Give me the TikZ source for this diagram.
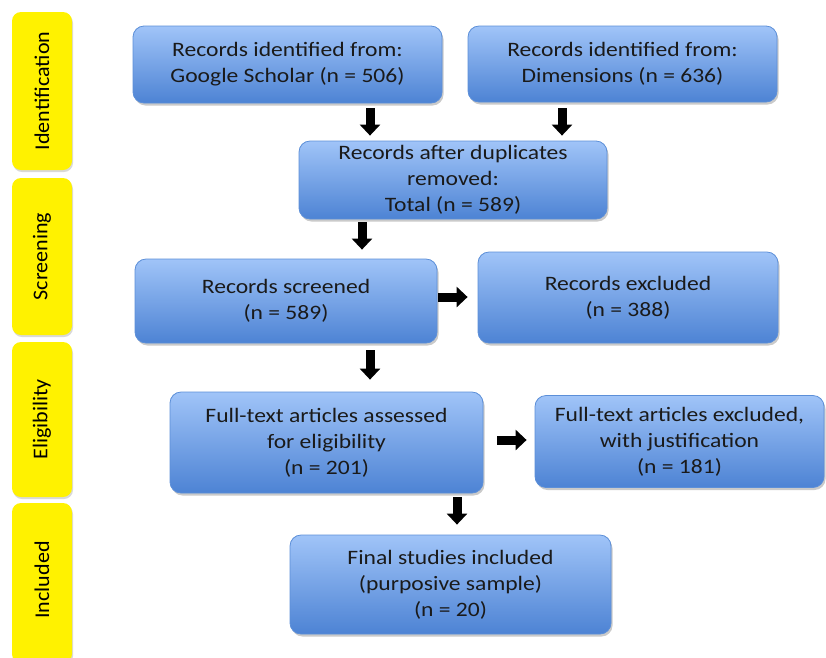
\documentclass[tikz,border=0pt]{standalone}
\usepackage{fontspec}
\setmainfont{Carlito}
\newfontfamily\boxfont{Carlito}[FakeStretch=1.15]
\newfontfamily\phasefont{Carlito}[FakeStretch=1.05]
\usetikzlibrary{shadows,arrows.meta,calc}
\definecolor{boxtop}{HTML}{A0C4F8}
\definecolor{boxbot}{HTML}{4D83D4}
\definecolor{boxedge}{HTML}{5C8FD8}
\definecolor{txt}{HTML}{1A1A1A}
\tikzset{
  box/.style={rectangle, rounded corners=11pt, draw=boxedge, line width=0.8pt,
    top color=boxtop, bottom color=boxbot, align=center, text=txt,
    font=\boxfont\fontsize{20.5}{26}\selectfont, inner sep=2pt,
    drop shadow={shadow xshift=1.5pt, shadow yshift=-2.5pt, opacity=0.35, fill=black!60}},
  phase/.style={rectangle, rounded corners=9pt, fill=yellow, minimum width=60pt,
    drop shadow={shadow xshift=1pt, shadow yshift=-2pt, opacity=0.3, fill=black!50}},
  phasetext/.style={rotate=90, font=\phasefont\fontsize{21}{24}\selectfont, text=black},
  blk/.style={line width=9pt, -{Triangle[width=20pt,length=11pt]}, black}
}
\begin{document}
\begin{tikzpicture}[x=1pt,y=-1pt]
\useasboundingbox (0,0) rectangle (826,657);
% phase bars
\node[phase, minimum height=158pt] (p1) at (42,91) {};
\node[phasetext] (t1) at (p1.center) {Identification};
\node[phase, minimum height=157pt] (p2) at (42,256.5) {};
\node[phasetext] (t2) at (p2.center) {Screening};
\node[phase, minimum height=155pt] (p3) at (42,419.5) {};
\node[phasetext] (t3) at (p3.center) {Eligibility};
\node[phase, minimum height=160pt] (p4) at (42,583) {};
\node[phasetext] (t4) at (42,580) {Included};
% boxes
\node[box, minimum width=309pt, minimum height=77pt] (gs) at (287.5,64.5) {Records identified from:\\Google Scholar (n = 506)};
\node[box, minimum width=309pt, minimum height=76pt] (dim) at (622.5,64) {Records identified from:\\Dimensions (n = 636)};
\node[box, minimum width=308pt, minimum height=78pt] (dup) at (453,180) {Records after duplicates\\removed:\\Total (n = 589)};
\node[box, minimum width=302pt, minimum height=84pt] (scr) at (286,301) {Records screened\\(n = 589)};
\node[box, minimum width=300pt, minimum height=91pt] (exc) at (628,297.5) {Records excluded\\(n = 388)};
\node[box, minimum width=313pt, minimum height=101pt] (ft) at (326.5,442.5) {Full-text articles assessed\\for eligibility\\(n = 201)};
\node[box, minimum width=289pt, minimum height=92pt] (fte) at (679.5,441.5) {Full-text articles excluded,\\with justification\\(n = 181)};
\node[box, minimum width=321pt, minimum height=99pt] (fin) at (450.5,584.5) {Final studies included\\(purposive sample)\\(n = 20)};
% arrows
\draw[blk] ($(gs.south)+(82.5,5)$) -- ($(dup.north)+(-83,-5)$);
\draw[blk] ($(dim.south)+(-60.5,6)$) -- ($(dup.north)+(109,-5)$);
\draw[blk] ($(dup.south)+(-91,3)$) -- ($(scr.north)+(76,-9)$);
\draw[blk] ($(scr.east)+(1,-4)$) -- ($(exc.west)+(-10,-0.5)$);
\draw[blk] ($(scr.south)+(84,7)$) -- ($(ft.north)+(43.5,-12)$);
\draw[blk] ($(ft.east)+(14,-2.5)$) -- ($(fte.west)+(-8,-1.5)$);
\draw[blk] ($(ft.south)+(130.5,4)$) -- ($(fin.north)+(6.5,-10)$);
\end{tikzpicture}
\end{document}
